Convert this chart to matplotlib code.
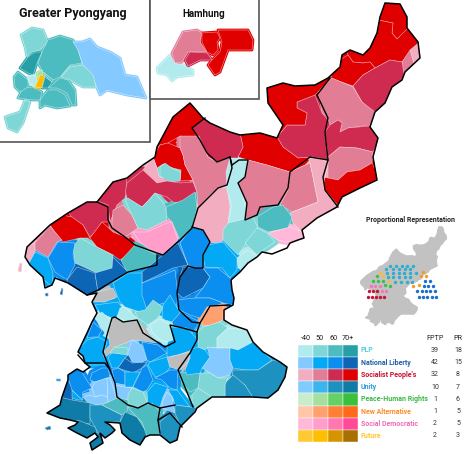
#!/usr/bin/env python3
import matplotlib
matplotlib.use("Agg")
import matplotlib.pyplot as plt
from matplotlib.patches import Polygon, Rectangle

plt.rcParams['font.family'] = ['Roboto', 'DejaVu Sans']

############ Legend data
parties = ["PLP", "National Liberty", "Socialist People's", "Unity", "Peace-Human Rights", "New Alternative", "Social Democratic", "Future"]
fptp_seats = [39, 42, 32, 10, 1, 1, 2, 2]
pr_seats = [18, 15, 8, 7, 6, 5, 5, 3]
share_labels = ["-40", "50", "60", "70+"]
party_text = ['#4dd0e1', '#1f5fa8', '#c8102e', '#2a9fd6', '#3cb64a', '#ff8c2a', '#f06aba', '#ffc62a']
shades = {
    "P": ['#b2ebee', '#7fd6d6', '#4dbcc0', '#26a0a6'],
    "N": ['#84c9ff', '#03a9f4', '#0a8ef0', '#0d66b5'],
    "S": ['#f2adc0', '#e27d96', '#cf2a50', '#e00000'],
    "U": ['#81ccff', '#3cb4ee', '#1d92c0', '#0f7ca8'],
    "H": ['#c9eccb', '#a5e0a0', '#66d066', '#3cc03c'],
    "A": ['#ffc6a8', '#ffa070', '#ff8035', '#ff6a1a'],
    "D": ['#ffb8d8', '#ff9ecb', '#ff78b0', '#ff4a98'],
    "F": ['#ffc933', '#ffbf00', '#d69400', '#a87000'],
}
party_keys = ["P", "N", "S", "U", "H", "A", "D", "F"]

############ Map outlines, in map units (y down)
land_outline = [(385,3),(400,4),(407,17),(407,28),(418,42),(420,58),(405,72),(402,80),(392,87),(385,103),(375,112),(370,127),(378,138),(373,157),(377,180),(360,188),(342,197),(337,207),(317,218),(302,230),(304,238),(298,240),(290,243),(287,248),(272,254),(262,252),(257,257),(248,263),(240,272),(231,280),(232,290),(234,298),(233,305),(224,310),(224,320),(232,325),(247,330),(253,342),(263,352),(280,362),(287,367),(285,377),(278,390),(268,398),(253,397),(225,397),(212,397),(197,408),(195,412),(180,427),(177,440),(170,443),(160,435),(150,435),(145,437),(140,445),(130,440),(122,433),(120,423),(105,422),(110,425),(115,430),(112,433),(105,438),(100,433),(103,443),(92,450),(90,443),(98,437),(95,433),(87,438),(77,433),(68,428),(75,425),(78,422),(70,420),(60,418),(47,413),(60,405),(62,397),(68,380),(68,375),(77,369),(83,372),(90,367),(85,363),(83,356),(78,352),(87,333),(92,322),(97,313),(92,302),(97,293),(87,295),(68,283),(55,278),(52,285),(45,288),(43,277),(30,265),(25,257),(27,247),(50,225),(68,213),(87,202),(97,202),(113,182),(127,178),(143,165),(155,157),(157,147),(173,117),(190,103),(203,118),(210,123),(230,132),(240,135),(260,133),(277,138),(283,125),(268,103),(267,88),(283,83),(295,86),(315,85),(328,78),(340,67),(342,55),(350,50),(363,55),(370,48),(377,33),(380,17)]

north_regions = [
    ("S",3,[(378,20),(385,0),(402,2),(410,28),(397,39),(392,33),(393,23)]),
    ("S",3,[(378,20),(393,23),(392,33),(397,39),(408,28),(420,42),(412,50),(402,62),(390,60),(375,68),(370,62),(363,63),(353,62),(348,55),(345,45),(370,45),(377,30)]),
    ("S",3,[(348,55),(353,62),(363,63),(370,62),(375,68),(363,75),(353,86),(330,78),(340,60)]),
    ("S",2,[(353,86),(363,75),(375,68),(390,60),(402,62),(408,72),(392,90),(385,105),(375,114),(362,102)]),
    ("S",0,[(410,50),(422,40),(424,60),(414,64)]),
    ("S",1,[(410,50),(414,64),(404,74),(402,62)]),
    ("S",1,[(318,92),(332,78),(353,87),(362,102),(375,112),(370,125),(348,128),(340,132),(342,122),(338,120),(330,125),(328,118),(322,113)]),
    ("S",2,[(325,132),(330,125),(338,120),(342,123),(340,132),(348,128),(370,126),(380,138),(373,152),(357,148),(340,147),(328,157),(327,147)]),
    ("S",1,[(328,157),(340,147),(357,148),(373,152),(372,163),(360,170),(347,172),(338,180),(328,178)]),
    ("S",3,[(328,178),(338,180),(347,172),(360,170),(372,163),(380,180),(360,190),(342,198),(338,209),(325,190),(323,177)]),
    ("S",2,[(315,95),(297,102),(297,108),(307,113),(305,125),(287,125),(277,137),(283,147),(298,158),(313,157),(328,160),(325,132),(328,120),(322,113)]),
    ("S",3,[(265,85),(283,81),(295,84),(315,83),(332,76),(318,92),(315,95),(297,102),(297,108),(307,113),(305,125),(287,125),(277,137),(266,103)]),
    ("S",3,[(240,133),(260,131),(277,137),(283,147),(298,158),(313,157),(305,165),(290,172),(267,165),(248,160),(238,157),(243,147)]),
    ("S",2,[(192,128),(205,118),(212,122),(240,133),(243,147),(238,157),(239,165),(232,165),(230,157),(217,162),(208,157),(200,140)]),
    ("S",3,[(155,150),(173,115),(190,101),(205,118),(192,128),(199,140),(180,136),(168,143),(160,145)]),
    ("S",3,[(153,157),(160,145),(168,143),(180,148),(183,155),(185,165),(193,180),(180,181),(181,170),(173,168),(163,164),(157,168)]),
    ("S",0,[(143,170),(153,157),(157,168),(159,176),(167,181),(157,183),(148,175)]),
    ("P",1,[(160,167),(165,163),(173,169),(181,172),(180,181),(170,182),(160,176)]),
    ("S",2,[(127,183),(143,170),(157,183),(167,181),(180,183),(193,182),(197,192),(182,203),(173,202),(167,197),(155,193),(147,202),(142,207),(127,198),(125,190)]),
    ("S",1,[(180,136),(199,136),(208,157),(217,162),(230,157),(232,168),(227,185),(218,188),(210,195),(198,208),(197,192),(193,180),(185,165),(183,155),(180,148)]),
    ("S",2,[(95,200),(113,180),(127,178),(125,198),(117,205),(110,222),(108,205)]),
    ("S",2,[(68,211),(87,200),(97,202),(108,207),(109,222),(102,222),(95,232),(90,237),(83,225),(72,218)]),
    ("S",3,[(50,225),(62,215),(72,217),(83,225),(90,238),(80,238),(63,242),(58,237)]),
    ("S",3,[(90,238),(102,222),(113,232),(125,237),(135,245),(128,255),(120,260),(113,255),(97,247)]),
    ("S",1,[(112,222),(113,210),(123,205),(132,215),(138,228),(125,237),(112,228)]),
    ("S",1,[(50,226),(62,240),(57,242),(48,257),(35,250),(33,245)]),
    ("S",0,[(25,247),(35,243),(35,255),(30,266),(23,255)]),
    ("S",1,[(248,160),(267,165),(290,172),(288,188),(278,205),(260,207),(257,215),(245,220),(247,203),(238,183),(245,177)]),
    ("S",1,[(290,172),(310,163),(313,177),(318,202),(292,212),(280,205),(288,190)]),
    ("S",0,[(308,158),(320,158),(328,163),(323,187),(339,207),(317,220),(302,232),(293,223),(290,213),(318,202),(313,177),(310,163)]),
]

middle_regions = [
    ("P",1,[(125,200),(132,215),(138,228),(147,230),(167,220),(165,205),(155,193),(147,202),(142,207),(128,198)]),
    ("P",2,[(166,207),(183,200),(195,192),(197,208),(192,228),(180,240),(172,222),(167,217)]),
    ("D",1,[(133,232),(147,232),(167,223),(172,222),(178,240),(163,255),(153,252),(140,242)]),
    ("P",2,[(121,260),(135,245),(157,255),(156,265),(127,272)]),
    ("P",1,[(73,247),(80,238),(97,247),(113,255),(112,272),(97,273),(75,263)]),
    ("N",1,[(28,265),(35,252),(48,258),(53,273),(52,287),(43,279)]),
    ("N",2,[(48,258),(58,242),(75,243),(73,254),(75,265),(67,280),(55,272)]),
    ("N",3,[(67,280),(77,267),(95,273),(98,292),(87,297),(68,285)]),
    ("N",3,[(95,273),(112,268),(113,257),(128,272),(113,282),(98,292)]),
    ("N",3,[(142,272),(163,255),(178,243),(188,265),(173,268),(142,283)]),
    ("N",2,[(180,243),(193,228),(203,228),(210,242),(203,268),(188,265)]),
    ("S",0,[(193,227),(198,208),(218,188),(227,187),(230,207),(228,223),(222,242),(210,243),(203,230)]),
    ("P",0,[(230,158),(238,158),(248,162),(245,177),(238,183),(243,197),(246,212),(245,222),(228,223),(232,205),(227,190),(226,172)]),
    ("P",2,[(257,217),(273,207),(283,205),(292,217),(288,228),(268,232),(258,227)]),
    ("D",0,[(268,233),(290,227),(303,232),(305,240),(290,242),(277,240)]),
    ("P",1,[(223,230),(228,223),(253,217),(258,228),(245,245),(238,255),(223,240)]),
    ("P",1,[(245,243),(257,228),(267,233),(275,242),(263,250),(257,255)]),
    ("P",0,[(237,258),(247,250),(257,256),(252,262),(242,270),(238,268)]),
    ("N",1,[(203,255),(208,245),(223,242),(237,258),(237,270),(230,278),(222,268),(205,267)]),
    ("N",2,[(180,243),(192,227),(203,230),(210,242),(203,255),(203,268),(195,268),(188,265)]),
    ("N",2,[(142,283),(163,275),(175,270),(178,295),(176,310),(172,320),(163,303),(147,310),(140,296)]),
    ("N",3,[(180,277),(183,267),(203,268),(210,277),(203,288),(183,298),(177,293)]),
    ("N",2,[(203,268),(218,268),(230,278),(235,297),(233,305),(223,303),(210,298),(195,298),(203,288),(210,277)]),
    ("N",2,[(177,300),(195,298),(210,298),(223,303),(218,305),(207,307),(200,318),(190,315),(180,310)]),
    ("N",2,[(172,322),(178,311),(200,322),(192,333),(173,325)]),
    ("A",1,[(201,320),(205,313),(208,307),(223,306),(223,320),(212,325),(203,326)]),
    ("P",1,[(198,332),(203,327),(220,322),(228,328),(217,338),(217,348),(208,347),(205,350),(198,347)]),
    ("P",0,[(217,338),(228,328),(247,330),(253,342),(238,350),(230,348),(217,348)]),
    ("N",0,[(207,347),(217,348),(230,348),(230,360),(233,368),(230,375),(218,378),(210,373),(202,368),(210,357)]),
    ("N",1,[(230,348),(238,350),(253,342),(263,352),(272,360),(258,370),(245,370),(233,368),(230,360)]),
    ("U",2,[(233,370),(245,370),(258,370),(273,360),(290,365),(287,378),(278,392),(268,400),(253,399),(245,385),(232,377)]),
    ("U",2,[(225,383),(233,375),(245,385),(254,399),(237,399),(225,399)]),
    ("P",1,[(200,373),(210,373),(218,378),(228,378),(225,385),(225,399),(212,399),(198,388)]),
    ("P",1,[(192,395),(198,388),(212,397),(207,402),(197,410),(192,402)]),
    ("P",2,[(178,372),(200,373),(198,388),(190,392),(182,383)]),
    ("N",1,[(190,350),(198,347),(205,350),(210,357),(202,368),(200,373),(187,375),(185,370),(190,358)]),
    ("N",1,[(167,345),(172,327),(187,328),(198,340),(192,350),(178,355),(167,357)]),
    ("N",9,[(167,358),(177,355),(190,352),(188,362),(180,370),(170,367)]),
    ("N",9,[(108,335),(112,318),(115,317),(123,322),(138,320),(145,333),(158,343),(133,340),(115,347),(110,353),(105,357),(103,352),(110,345)]),
    ("N",9,[(90,302),(97,292),(113,288),(117,297),(105,302)]),
    ("N",1,[(95,305),(118,302),(122,307),(117,317),(112,318),(100,313)]),
    ("N",1,[(113,283),(128,273),(142,273),(142,295),(147,310),(140,312),(125,307),(120,302),(117,295)]),
    ("P",0,[(120,308),(125,307),(137,318),(138,320),(127,322),(117,317)]),
    ("P",1,[(135,312),(145,310),(153,300),(163,307),(158,318),(148,325),(138,318)]),
    ("N",1,[(162,318),(163,305),(170,295),(180,313),(172,322),(165,320)]),
    ("P",0,[(150,325),(160,319),(170,325),(173,340),(167,342),(160,340),(152,332)]),
]

south_regions = [
    ("P",0,[(95,317),(102,312),(112,322),(107,335),(100,327)]),
    ("N",2,[(87,338),(93,322),(102,330),(98,337),(93,337)]),
    ("N",1,[(76,352),(87,340),(98,337),(107,342),(103,355),(108,365),(93,365),(85,365)]),
    ("P",1,[(112,350),(115,347),(128,348),(128,355),(110,353)]),
    ("N",0,[(128,353),(132,340),(142,345),(147,360),(140,363),(132,362)]),
    ("N",2,[(142,342),(158,345),(167,353),(150,362),(147,360)]),
    ("N",1,[(108,357),(112,353),(128,355),(125,358),(118,368),(112,368)]),
    ("N",3,[(118,368),(125,358),(132,363),(147,362),(142,368),(133,373)]),
    ("N",2,[(112,370),(118,368),(125,372),(125,385),(115,383)]),
    ("N",1,[(125,372),(140,372),(135,382),(133,387),(125,387)]),
    ("N",2,[(142,368),(147,365),(153,380),(147,390),(143,392),(133,387),(140,373)]),
    ("N",1,[(150,362),(167,357),(170,368),(163,375),(155,377),(148,365)]),
    ("N",2,[(155,378),(170,370),(178,370),(177,390),(170,388),(162,380)]),
    ("N",1,[(147,392),(155,383),(168,387),(163,397),(160,407),(148,403)]),
    ("N",0,[(115,385),(125,387),(132,388),(128,400),(117,397)]),
    ("P",1,[(132,388),(143,392),(147,402),(138,408),(128,405),(128,395)]),
    ("N",1,[(168,390),(177,390),(190,407),(175,405),(173,398)]),
    ("N",0,[(162,403),(167,392),(172,397),(175,413),(163,408)]),
    ("U",2,[(175,405),(197,408),(182,430),(175,413)]),
    ("N",3,[(60,397),(68,380),(73,388),(72,402)]),
    ("N",2,[(66,372),(78,366),(88,382),(92,388),(83,392),(82,400),(72,390)]),
    ("N",2,[(92,373),(102,368),(108,368),(110,377),(95,382),(90,380)]),
    ("N",0,[(92,388),(95,382),(107,378),(108,397),(100,395),(95,397)]),
    ("N",0,[(83,397),(90,395),(95,397),(102,395),(108,397),(108,402),(97,405),(87,402)]),
    ("N",0,[(107,378),(110,378),(117,400),(108,402)]),
    ("N",1,[(72,390),(77,395),(83,400),(78,400),(72,398)]),
    ("U",3,[(45,413),(60,405),(60,397),(72,400),(90,403),(90,418),(90,424),(60,420)]),
    ("U",2,[(90,405),(102,405),(122,415),(120,422),(105,422),(118,432),(110,445),(98,433),(90,418)]),
    ("P",2,[(102,405),(117,398),(128,405),(127,412),(122,415)]),
    ("U",3,[(120,422),(125,412),(137,417),(147,433),(143,447),(133,442),(120,435)]),
    ("P",2,[(128,407),(138,407),(152,403),(160,412),(158,420),(160,435),(147,437),(142,422),(132,412)]),
    ("U",2,[(160,422),(170,413),(175,417),(182,427),(179,442),(170,445),(160,435)]),
    ("U",3,[(66,428),(78,420),(95,427),(97,432),(87,440),(75,434)]),
    ("U",3,[(88,452),(90,440),(100,432),(105,445),(92,452)]),
]

islands = [
    ("S",0,[(18,271),(20,263),(22,264),(21,272)]),
    ("N",3,[(60,294),(62,288),(63,290),(62,295)]),
    ("N",3,[(45,294),(48,293),(48,296),(46,296)]),
    ("U",3,[(45,428),(50,426),(51,429),(47,430)]),
    ("N",2,[(56,379),(60,379),(61,381),(57,381)]),
]

# black province borders
province_lines = [
    [(330,78),(317,95),(328,118),(325,132),(328,160),(323,177),(325,190),(338,207)],
    [(232,165),(239,160),(248,160),(245,177),(238,183),(247,203),(245,220),(257,215),(260,207),(278,205),(288,188),(290,172),(310,157),(328,160)],
    [(205,118),(192,128),(200,140),(207,153),(217,162),(230,157),(232,168),(227,185),(218,188),(198,208),(192,228),(180,240),(163,255),(157,253),(135,245),(125,237),(112,228),(108,220),(108,207),(97,202)],
    [(232,165),(230,157)],
    [(192,227),(203,230),(210,242),(203,255),(203,268),(195,268),(188,266),(180,277),(177,293),(179,310),(192,322),(200,323),(197,332),(183,328),(170,325),(175,342),(165,347),(143,333),(137,320),(123,322),(115,317),(112,318),(107,335),(103,352),(115,383),(117,397),(128,405),(138,408),(148,403),(160,408),(158,420),(160,433)],
    [(87,295),(98,290),(128,272),(157,265),(157,255)],
    [(200,323),(203,318),(210,306),(230,305)],
    [(197,332),(197,340),(190,353),(178,370),(193,407)],
    [(175,405),(160,408)],
    [(158,420),(170,413),(182,427)],
    [(78,355),(85,363),(105,363),(110,370)],
]

############ Insets
pyongyang_regions = [
    ("P",1,[(21,35),(32,28),(43,30),(48,42),(40,50),(32,52),(27,57),(25,47)]),
    ("P",3,[(20,68),(28,57),(35,52),(42,52),(37,63),(33,75),(28,73)]),
    ("P",2,[(38,63),(43,50),(48,40),(60,36),(73,40),(77,47),(82,63),(70,65),(60,77),(53,80),(43,72)]),
    ("N",0,[(73,42),(82,42),(90,39),(97,47),(110,52),(120,58),(125,75),(137,77),(146,98),(127,95),(107,90),(100,95),(97,88),(93,77),(83,65),(78,50)]),
    ("P",1,[(61,77),(70,67),(83,65),(93,75),(96,87),(83,87),(70,80)]),
    ("P",2,[(48,88),(60,78),(68,80),(75,90),(76,105),(72,105),(67,93),(57,88)]),
    ("P",2,[(40,100),(48,90),(57,90),(65,95),(70,106),(57,108),(45,105),(40,108)]),
    ("P",2,[(18,98),(23,88),(32,87),(42,92),(40,100),(33,100)]),
    ("P",2,[(14,77),(18,72),(28,80),(28,87),(20,92),(15,87)]),
    ("P",1,[(5,117),(20,112),(25,100),(30,102),(23,123),(17,132),(8,128)]),
    ("P",0,[(28,77),(35,75),(38,82),(35,87),(30,83)]),
    ("H",1,[(37,73),(42,70),(43,75),(38,78)]),
    ("F",1,[(35,87),(40,75),(45,75),(42,88)]),
    ("P",3,[(42,88),(45,77),(52,82),(48,88)]),
    ("P",2,[(45,75),(43,72),(53,80),(52,82)]),
]

hamhung_regions = [
    ("P",0,[(157,68),(170,55),(175,63),(183,65),(193,70),(193,75),(177,77),(172,81),(167,75),(158,73)]),
    ("S",1,[(172,53),(183,32),(197,30),(202,33),(200,42),(207,52),(188,52),(182,62),(175,63)]),
    ("S",3,[(202,33),(217,32),(220,38),(217,42),(218,50),(213,55),(207,52),(202,42)]),
    ("S",2,[(185,60),(190,52),(207,53),(212,60),(200,60),(188,66)]),
    ("S",3,[(218,30),(248,30),(253,40),(252,50),(228,50),(220,72),(215,75),(208,65),(212,60),(220,52),(222,42)]),
]

############ Proportional dots, zoomed image positions
pr_map_scale = (0.218, 0.222)
pr_map_offset = (355, 226)
teal_dots = [(151,183),(168,183),(185,183),(202,183),(218,183),(137,193),(160,193),(177,193),(194,193),(211,193),(142,204),(159,204),(176,204),(193,204),(210,204),(228,204),(143,217),(160,217),(177,217),(194,217),(211,217),(166,231),(183,231),(200,231),(217,231)]
future_dots = [(120,203),(128,213),(148,229)]
alternative_dots = [(248,202),(242,213),(258,214),(220,242),(236,240)]
peace_dots = [(110,214),(100,228),(115,227),(130,228),(135,241),(150,243)]
social_dots = [(92,243),(105,243),(119,243),(127,257),(139,258)]
red_dots = [(87,259),(100,259),(112,259),(85,276),(97,276),(109,276),(121,276),(133,276)]
blue_dots = [(255,227),(270,228),(251,242),(264,242),(279,242),(232,258),(245,258),(258,258),(271,258),(284,258),(236,276),(249,276),(262,276),(275,276),(287,276)]


def shade(key, level):
    if level == 9:
        return '#bdbdbd'
    return shades[key][level]


def draw_regions(ax, regions, clip=None, zorder=1, spread=5.0, lw=0.4):
    # own colour stroke first so the rough outlines close up, then the fills
    base = []
    for key, level, points in regions:
        color = shade(key, level)
        under = Polygon(points, closed=True, facecolor=color, edgecolor=color, linewidth=spread, joinstyle='round', zorder=zorder)
        ax.add_patch(under)
        base.append(under)
    for key, level, points in regions:
        patch = Polygon(points, closed=True, facecolor=shade(key, level), edgecolor=(1, 1, 1, 0.6), linewidth=lw, joinstyle='round', zorder=zorder + 0.1)
        ax.add_patch(patch)
        base.append(patch)
    if clip is not None:
        for patch in base:
            patch.set_clip_path(clip)


def draw_legend(ax):
    left, top = 298, 344.5
    for i, key in enumerate(party_keys):
        for j in range(4):
            ax.add_patch(Rectangle((left + j * 15, top + i * 12.2), 15, 12.2, facecolor=shades[key][j], edgecolor='white', linewidth=0.3))
        y = top + i * 12.2 + 6
        ax.text(361, y, parties[i], color=party_text[i], fontsize=5.0, fontweight='bold', va='center', ha='left')
        ax.text(435, y, str(fptp_seats[i]), color='#333333', fontsize=5, va='center', ha='center')
        ax.text(458, y, str(pr_seats[i]), color='#333333', fontsize=5, va='center', ha='center')
    for j, label in enumerate(share_labels):
        ax.text(306 + j * 14, 339, label, color='#222222', fontsize=5.2, va='center', ha='center')
    ax.text(435, 339, "FPTP", color='#222222', fontsize=5.2, va='center', ha='center')
    ax.text(458, 339, "PR", color='#222222', fontsize=5.2, va='center', ha='center')


def draw_pr_map(ax):
    sx, sy = pr_map_scale
    ox, oy = pr_map_offset
    mini = [(x * sx + ox, y * sy + oy) for x, y in land_outline]
    ax.add_patch(Polygon(mini, closed=True, facecolor='#c2c2c2', edgecolor='#c2c2c2', linewidth=0.8))
    ax.text(411, 220, "Proportional Representation", color='#222222', fontsize=5, fontweight='bold', ha='center', va='center')
    groups = [(teal_dots, '#2caed0'), (future_dots, '#f8b93c'), (alternative_dots, '#f59a2a'), (peace_dots, '#35c24a'), (social_dots, '#ee7ab8'), (red_dots, '#cc1133'), (blue_dots, '#1a6fd0')]
    for dots, color in groups:
        xs = [340 + x / 3 for x, y in dots]
        ys = [205 + y / 3 for x, y in dots]
        ax.scatter(xs, ys, s=6, color=color, linewidths=0, zorder=4)


def main():
    fig = plt.figure(figsize=(4.74, 4.54), dpi=100)
    ax = fig.add_axes([0, 0, 1, 1])
    ax.set_xlim(0, 474)
    ax.set_ylim(454, 0)
    ax.axis('off')

    land = Polygon(land_outline, closed=True, facecolor='white', edgecolor='none')
    ax.add_patch(land)
    draw_regions(ax, north_regions + middle_regions + south_regions, land)
    draw_regions(ax, islands, spread=0.3)

    for line in province_lines:
        ax.plot([p[0] for p in line], [p[1] for p in line], color='black', lw=1.0, solid_joinstyle='round', zorder=3)
    ax.add_patch(Polygon(land_outline, closed=True, facecolor='none', edgecolor='black', linewidth=1.1, joinstyle='round', zorder=3))

    # inset boxes go on top of the map
    ax.add_patch(Rectangle((-3, -3), 153.5, 144.5, facecolor='white', edgecolor='#555555', linewidth=1.2, zorder=5))
    ax.add_patch(Rectangle((150.5, -3), 109, 102, facecolor='white', edgecolor='#555555', linewidth=1.2, zorder=5))

    draw_regions(ax, pyongyang_regions + hamhung_regions, zorder=6, spread=2.0, lw=0.4)
    ax.text(73, 14, "Greater Pyongyang", color='#111111', fontsize=9, fontweight='bold', ha='center', va='center', zorder=7)
    ax.text(204, 14, "Hamhung", color='#111111', fontsize=7, fontweight='bold', ha='center', va='center', zorder=7)

    draw_pr_map(ax)
    draw_legend(ax)

    fig.savefig("out.png", dpi=100, facecolor='white')


if __name__ == '__main__':
    main()
